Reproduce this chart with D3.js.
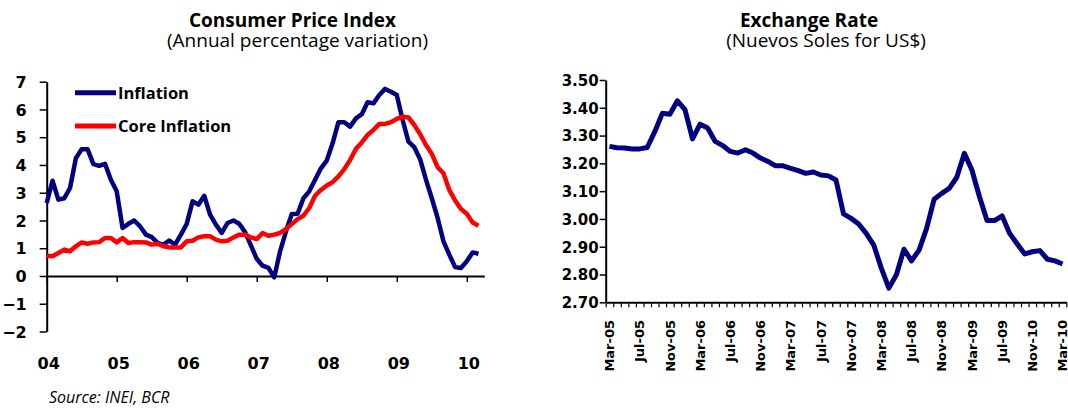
<!DOCTYPE html>
<html>
<head>
<meta charset="utf-8">
<title>CPI and exchange rate</title>
<style>
  body { margin: 0; background: #fff; }
  .axis path, .axis line { stroke: #000; }
  .num { font-family: "DejaVu Sans", sans-serif; font-weight: bold; fill: #000; }
  .word { font-family: "Open Sans", sans-serif; fill: #000; }
</style>
</head>
<body>
<svg width="1068" height="408"></svg>
<script src="https://cdnjs.cloudflare.com/ajax/libs/d3/7.8.5/d3.min.js"></script>
<script>

// ---- data: CPI, monthly from Jan 2004 ----
var years = ["04", "05", "06", "07", "08", "09", "10"];
var inflation = [
  2.63, 3.43, 2.75, 2.80, 3.17, 4.24, 4.57, 4.57, 4.03, 3.97, 4.04, 3.47,
  3.05, 1.73, 1.88, 2.00, 1.79, 1.49, 1.40, 1.19, 1.13, 1.28, 1.13, 1.49,
  1.88, 2.69, 2.57, 2.89, 2.21, 1.85, 1.55, 1.91, 2.00, 1.88, 1.58, 1.10,
  0.62, 0.37, 0.29, -0.05, 0.89, 1.60, 2.23, 2.24, 2.80, 3.05, 3.47, 3.88,
  4.16, 4.78, 5.54, 5.54, 5.38, 5.68, 5.83, 6.26, 6.22, 6.52, 6.74, 6.64,
  6.52, 5.62, 4.84, 4.64, 4.21, 3.47, 2.80, 2.09, 1.25, 0.77, 0.32, 0.29,
  0.53, 0.85, 0.80
];
var coreInflation = [
  0.73, 0.71, 0.83, 0.95, 0.89, 1.07, 1.21, 1.16, 1.21, 1.22, 1.37, 1.37,
  1.21, 1.37, 1.19, 1.22, 1.22, 1.21, 1.13, 1.16, 1.07, 1.03, 1.03, 1.03,
  1.25, 1.27, 1.39, 1.43, 1.43, 1.31, 1.25, 1.27, 1.39, 1.49, 1.49, 1.39,
  1.33, 1.55, 1.45, 1.49, 1.55, 1.69, 1.87, 2.05, 2.17, 2.45, 2.89, 3.10,
  3.26, 3.38, 3.59, 3.85, 4.18, 4.58, 4.81, 5.08, 5.26, 5.48, 5.48, 5.54,
  5.66, 5.74, 5.71, 5.44, 5.11, 4.72, 4.40, 3.92, 3.70, 3.10, 2.72, 2.41,
  2.24, 1.93, 1.81
];

// ---- data: exchange rate, monthly Mar-05 .. Mar-10 ----
var fxTickLabels = ["Mar-05", "Jul-05", "Nov-05", "Mar-06", "Jul-06", "Nov-06",
  "Mar-07", "Jul-07", "Nov-07", "Mar-08", "Jul-08", "Nov-08", "Mar-09",
  "Jul-09", "Nov-10", "Mar-10"];
var exchangeRate = [
  3.261, 3.256, 3.255, 3.252, 3.252, 3.257, 3.314, 3.380, 3.377, 3.425,
  3.393, 3.288, 3.341, 3.327, 3.279, 3.264, 3.243, 3.237, 3.249, 3.237,
  3.219, 3.207, 3.191, 3.191, 3.182, 3.174, 3.164, 3.169, 3.158, 3.155,
  3.140, 3.018, 3.002, 2.982, 2.948, 2.906, 2.823, 2.751, 2.799, 2.891,
  2.849, 2.888, 2.966, 3.071, 3.092, 3.110, 3.150, 3.236, 3.176, 3.080,
  2.994, 2.994, 3.011, 2.948, 2.910, 2.874, 2.882, 2.886, 2.855, 2.849,
  2.838
];

var svg = d3.select("svg");

//************ left chart: consumer price index ************//

var xL = d3.scaleLinear().domain([0, 75]).range([46.7, 484.3]);
var yL = d3.scaleLinear().domain([-2, 7]).range([331.5, 81.7]);

svg.append("text").attr("class", "word")
  .attr("x", 292.5).attr("y", 27)
  .attr("text-anchor", "middle")
  .style("font-size", "19px").style("font-weight", "bold")
  .text("Consumer Price Index");
svg.append("text").attr("class", "word")
  .attr("x", 297.5).attr("y", 47)
  .attr("text-anchor", "middle")
  .style("font-size", "19px")
  .text("(Annual percentage variation)");

// y axis
var yAxisL = svg.append("g").attr("class", "axis")
  .attr("transform", "translate(" + xL(0) + ",0)")
  .call(d3.axisLeft(yL).tickValues(d3.range(-2, 8)).tickSize(7).tickSizeOuter(0).tickPadding(13));
yAxisL.select(".domain").attr("stroke-width", 2);
yAxisL.selectAll(".tick line").attr("stroke-width", 1.5);
yAxisL.selectAll("text").attr("class", "num").style("font-size", "16px").attr("dy", "0.36em");

// x axis on the zero line
var xAxisL = svg.append("g").attr("class", "axis")
  .attr("transform", "translate(0," + yL(0) + ")")
  .call(d3.axisBottom(xL).tickValues(d3.range(0, 73, 12)).tickSize(6).tickSizeOuter(0).tickFormat(""));
xAxisL.select(".domain").attr("stroke-width", 2);
xAxisL.selectAll(".tick line").attr("stroke-width", 1.5);

// year labels sit below the whole plot
svg.selectAll(".yearLabel")
  .data(years)
  .enter().append("text")
    .attr("class", "num yearLabel")
    .attr("x", (d, i) => xL(i * 12) + 2)
    .attr("y", 369)
    .attr("text-anchor", "middle")
    .style("font-size", "16px")
    .text(d => d);

var lineL = d3.line()
  .x((d, i) => xL(i))
  .y(d => yL(d));

svg.append("path").datum(inflation)
  .attr("fill", "none").attr("stroke", "#000080")
  .attr("stroke-width", 4.5).attr("stroke-linejoin", "round")
  .attr("d", lineL);
svg.append("path").datum(coreInflation)
  .attr("fill", "none").attr("stroke", "#ff0000")
  .attr("stroke-width", 4.5).attr("stroke-linejoin", "round")
  .attr("d", lineL);

// legend
var legend = [
  { name: "Inflation", color: "#000080", y: 92.7 },
  { name: "Core Inflation", color: "#ff0000", y: 126 }
];
legend.forEach(d => {
  svg.append("line")
    .attr("x1", 75).attr("x2", 116).attr("y1", d.y).attr("y2", d.y)
    .attr("stroke", d.color).attr("stroke-width", 5);
  svg.append("text").attr("class", "word")
    .attr("x", 118).attr("y", d.y + 6.3)
    .style("font-size", "16.5px").style("font-weight", "bold")
    .text(d.name);
});

svg.append("text").attr("class", "word")
  .attr("x", 49).attr("y", 403)
  .style("font-size", "16px").style("font-style", "italic")
  .text("Source: INEI, BCR");

//************ right chart: exchange rate ************//

var xR = d3.scaleBand().domain(d3.range(exchangeRate.length)).range([605.7, 1066.3]);
var xRticks = d3.scaleLinear().domain([0, exchangeRate.length]).range([605.7, 1066.3]);
var yR = d3.scaleLinear().domain([2.7, 3.5]).range([302.3, 80]);
var bw = xR.bandwidth();

svg.append("text").attr("class", "word")
  .attr("x", 809).attr("y", 27)
  .attr("text-anchor", "middle")
  .style("font-size", "19px").style("font-weight", "bold")
  .text("Exchange Rate");
svg.append("text").attr("class", "word")
  .attr("x", 826).attr("y", 47)
  .attr("text-anchor", "middle")
  .style("font-size", "19px")
  .text("(Nuevos Soles for US$)");

var yAxisR = svg.append("g").attr("class", "axis")
  .attr("transform", "translate(605.7,0)")
  .call(d3.axisLeft(yR).tickValues(d3.range(27, 36).map(d => d / 10))
    .tickFormat(d3.format(".2f")).tickSize(6).tickSizeOuter(0).tickPadding(1));
yAxisR.select(".domain").attr("stroke-width", 2);
yAxisR.selectAll(".tick line").attr("stroke-width", 1.5);
yAxisR.selectAll("text").attr("class", "num").style("font-size", "15px").attr("dy", "0.36em");

var xAxisR = svg.append("g").attr("class", "axis")
  .attr("transform", "translate(0," + yR(2.7) + ")")
  .call(d3.axisBottom(xRticks).tickValues(d3.range(0, exchangeRate.length + 1))
    .tickSize(5).tickSizeOuter(0).tickFormat(""));
xAxisR.select(".domain").attr("stroke-width", 2);
xAxisR.selectAll(".tick line").attr("stroke-width", 1.2);

svg.selectAll(".fxLabel")
  .data(fxTickLabels)
  .enter().append("text")
    .attr("class", "num fxLabel")
    .attr("transform", (d, i) => "translate(" + (xR(i * 4) + bw / 2) + ",320) rotate(-90)")
    .attr("text-anchor", "end")
    .attr("dy", "0.36em")
    .style("font-size", "13px")
    .text(d => d);

svg.append("path").datum(exchangeRate)
  .attr("fill", "none").attr("stroke", "#000080")
  .attr("stroke-width", 5).attr("stroke-linejoin", "round")
  .attr("d", d3.line().x((d, i) => xR(i) + bw / 2).y(d => yR(d)));

</script>
</body>
</html>
